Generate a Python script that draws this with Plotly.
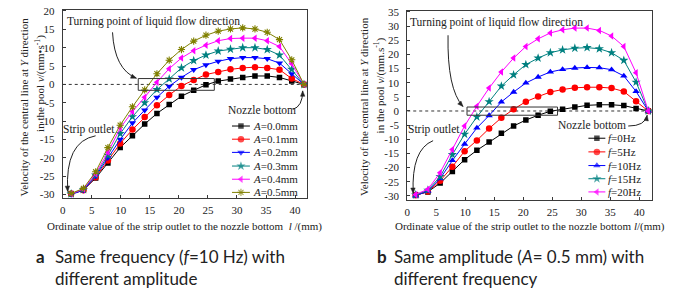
import math
import plotly.graph_objects as go

W, H = 685, 292

# ---------------- data ----------------
x_pos = [1.45, 3.56, 5.67, 7.78, 9.89, 12.0, 14.11, 16.22, 18.33, 20.44,
         22.55, 24.66, 26.77, 28.88, 30.99, 33.1, 35.21, 37.32, 39.43, 41.54]

amp_names = ["<i>A</i>=0.0mm", "<i>A</i>=0.1mm", "<i>A</i>=0.2mm",
             "<i>A</i>=0.3mm", "<i>A</i>=0.4mm", "<i>A</i>=0.5mm"]
v_A00 = [-29.8, -28.8, -25.5, -21.4, -17.2, -14.0, -10.8, -7.9, -5.5, -3.2,
         -1.6, -0.1, 0.9, 1.5, 1.9, 2.3, 2.3, 1.9, 0.9, 0.0]
v_A01 = [-29.8, -28.8, -25.3, -20.7, -16.1, -12.3, -8.9, -5.7, -2.9, -0.4,
         1.2, 2.7, 3.4, 4.1, 4.5, 4.7, 4.5, 4.0, 1.6, 0.0]
v_A02 = [-30.0, -28.8, -25.0, -20.0, -15.0, -10.5, -7.0, -3.5, -0.5, 1.9,
         4.0, 5.3, 6.3, 7.0, 7.3, 7.3, 7.0, 5.8, 2.9, 0.0]
v_A03 = [-29.8, -28.6, -24.7, -19.3, -13.4, -8.8, -5.0, -1.4, 1.5, 4.5,
         6.5, 8.0, 9.1, 9.6, 10.0, 10.0, 9.5, 8.0, 4.1, 0.0]
v_A04 = [-29.8, -28.5, -24.3, -18.5, -11.9, -7.4, -3.5, 0.6, 4.3, 7.2,
         9.2, 10.7, 11.9, 12.5, 12.6, 12.6, 11.9, 10.3, 5.6, 0.0]
v_A05 = [-29.7, -28.3, -23.8, -17.2, -11.1, -6.1, -1.5, 2.9, 6.6, 9.5,
         11.8, 13.4, 14.5, 15.1, 15.4, 15.1, 14.2, 12.2, 6.7, 0.0]
amp_series = [v_A00, v_A01, v_A02, v_A03, v_A04, v_A05]

freq_names = ["<i>f</i>=0Hz", "<i>f</i>=5Hz", "<i>f</i>=10Hz",
              "<i>f</i>=15Hz", "<i>f</i>=20Hz"]
v_f00 = [-29.7, -28.6, -25.5, -21.4, -17.2, -13.9, -11.0, -7.9, -5.3, -3.2,
         -1.5, -0.1, 0.6, 1.4, 2.0, 2.2, 2.2, 1.9, 0.9, 0.0]
v_f05 = [-29.8, -28.5, -24.7, -19.7, -14.2, -10.4, -6.2, -2.4, 0.6, 3.3,
         5.1, 6.7, 7.6, 8.2, 8.4, 8.4, 8.1, 6.9, 3.4, 0.0]
v_f10 = [-30.0, -28.3, -23.9, -17.5, -11.7, -6.0, -1.6, 3.2, 6.7, 9.9,
         12.0, 13.8, 14.7, 15.2, 15.4, 15.3, 14.6, 12.4, 6.9, 0.0]
v_f15 = [-29.7, -28.0, -23.2, -15.4, -8.2, -2.1, 3.3, 8.8, 12.8, 16.4,
         18.7, 20.6, 21.6, 22.2, 22.4, 22.0, 20.6, 17.9, 10.2, 0.0]
v_f20 = [-29.5, -27.7, -21.8, -13.6, -5.3, 1.7, 8.1, 13.8, 18.7, 22.8,
         25.5, 27.6, 28.7, 29.3, 29.3, 28.5, 26.5, 22.8, 13.5, 0.0]
freq_series = [v_f00, v_f05, v_f10, v_f15, v_f20]

x_ticks = [0, 5, 10, 15, 20, 25, 30, 35, 40]
x_ticklabels = ["0", "5", "10", "15", "20", "25", "30", "35", "40"]
yL_ticks = [-30, -25, -20, -15, -10, -5, 0, 5, 10, 15, 20]
yL_ticklabels = ["-30", "-25", "-20", "-15", "-10", "-5", "0", "5", "10", "15", "20"]
yR_ticks = [-30, -25, -20, -15, -10, -5, 0, 5, 10, 15, 20, 25, 30, 35]
yR_ticklabels = ["-30", "-25", "-20", "-15", "-10", "-5", "0", "5", "10",
                 "15", "20", "25", "30", "35"]

# ---------------- styles ----------------
SERIF = "Liberation Serif, Times New Roman, serif"
SANS = "Lato, Open Sans, sans-serif"
TXT = "#222222"
AX = "#3a3a3a"

amp_colors = ["#000000", "#FF0000", "#0000FF", "#008080", "#FF00FF", "#808000"]
amp_symbols = ["square", "circle", "triangle-down", "star", "triangle-left", "asterisk-open"]
amp_sizes = [5.5, 6.5, 6.5, 7, 6.5, 6]
freq_colors = ["#000000", "#FF0000", "#0000FF", "#008080", "#FF00FF"]
freq_symbols = ["square", "circle", "triangle-up", "star", "triangle-left"]
freq_sizes = [5.5, 6.5, 6.5, 7, 6.5]


def X(px):
    return px / W


def Y(py):
    return 1 - py / H


def marker(sym, col, size):
    m = dict(symbol=sym, color=col, size=size, line=dict(width=0, color=col))
    if sym.endswith("-open"):
        m["line"] = dict(width=1.1, color=col)
    return m


fig = go.Figure()

for name, vals, col, sym, sz in zip(amp_names, amp_series, amp_colors, amp_symbols, amp_sizes):
    fig.add_trace(go.Scatter(x=x_pos, y=vals, mode="lines+markers", name=name,
                             line=dict(color=col, width=1), marker=marker(sym, col, sz),
                             xaxis="x", yaxis="y", showlegend=False))

for name, vals, col, sym, sz in zip(freq_names, freq_series, freq_colors, freq_symbols, freq_sizes):
    fig.add_trace(go.Scatter(x=x_pos, y=vals, mode="lines+markers", name=name,
                             line=dict(color=col, width=1), marker=marker(sym, col, sz),
                             xaxis="x2", yaxis="y2", showlegend=False))

# ------------- hand-drawn legends (overlay pixel axes) -------------
annotations = []


def legend_block(names, colors, symbols, sizes, x0, x1, xt, rows):
    for name, col, sym, sz, ry in zip(names, colors, symbols, sizes, rows):
        fig.add_trace(go.Scatter(x=[x0, (x0 + x1) / 2, x1], y=[ry, ry, ry],
                                 mode="lines+markers", line=dict(color=col, width=1),
                                 marker=dict(marker(sym, col, sz), size=[0, sz, 0]),
                                 xaxis="x3", yaxis="y3", showlegend=False,
                                 hoverinfo="skip"))
        annotations.append(dict(x=X(xt), y=Y(ry), xref="paper", yref="paper",
                                text=name, showarrow=False, xanchor="left",
                                yanchor="middle", font=dict(family=SERIF, size=11, color=TXT)))


legend_block(amp_names, amp_colors, amp_symbols, amp_sizes, 230, 248, 249,
             [124, 137.5, 151, 165, 178.5, 192])
legend_block(freq_names, freq_colors, freq_symbols, freq_sizes, 588, 605, 606,
             [136.5, 150.5, 164.5, 178, 191.5])

# ------------- text annotations -------------


def txt(px, py, text, size=11, family=SERIF, xanchor="center", angle=0):
    annotations.append(dict(x=X(px), y=Y(py), xref="paper", yref="paper", text=text,
                            showarrow=False, xanchor=xanchor, yanchor="middle",
                            textangle=angle, font=dict(family=family, size=size, color=TXT)))


txt(151, 17, "Turning point of liquid flow direction", 11.5)
txt(86, 128, "Strip outlet", 11.5)
txt(260, 108, "Nozzle bottom", 11.5)
txt(496, 18, "Turning point of liquid flow direction", 11.5)
txt(433, 128, "Strip outlet", 11.5)
txt(592, 123, "Nozzle bottom", 11.5)

txt(21, 104, "Velocity of the central line at <i>Y</i> direction", 11, angle=-90)
txt(37, 80, "in the pool <i>v</i>/(mm\u2022s<sup>-1</sup>)", 11, angle=-90)
txt(362, 104, "Velocity of the central line at <i>Y</i> direction", 11, angle=-90)
txt(378, 82, "in the pool <i>v</i>/(mm.s<sup>-1</sup>)", 11, angle=-90)

txt(182, 227, "Ordinate value of the strip outlet to the nozzle bottom  <i>l</i> /(mm)", 11)
txt(529, 227, "Ordinate value of the strip outlet to the nozzle bottom <i>l</i>/(mm)", 11)

txt(31, 258, "<b>a</b>", 17, SANS, "left")
txt(50, 258, "Same frequency (<i>f</i>=10 Hz) with", 17, SANS, "left")
txt(50, 280, "different amplitude", 17, SANS, "left")
txt(374, 258, "<b>b</b>", 17, SANS, "left")
txt(391, 258, "Same amplitude (<i>A</i>= 0.5 mm) with", 17, SANS, "left")
txt(391, 280, "different frequency", 17, SANS, "left")

# ------------- shapes -------------
shapes = []


def curved_arrow(p0, c, p1, col="#222222"):
    shapes.append(dict(type="path", xref="paper", yref="paper",
                       path=f"M {X(p0[0])},{Y(p0[1])} Q {X(c[0])},{Y(c[1])} {X(p1[0])},{Y(p1[1])}",
                       line=dict(color=col, width=1)))
    dx, dy = p1[0] - c[0], p1[1] - c[1]
    L = math.hypot(dx, dy)
    ux, uy = dx / L, dy / L
    size, half = 5.5, 2.2
    bx, by = p1[0] - ux * size, p1[1] - uy * size
    lx, ly = bx - uy * half, by + ux * half
    rx, ry = bx + uy * half, by - ux * half
    shapes.append(dict(type="path", xref="paper", yref="paper",
                       path=f"M {X(p1[0])},{Y(p1[1])} L {X(lx)},{Y(ly)} L {X(rx)},{Y(ry)} Z",
                       fillcolor=col, line=dict(color=col, width=0.5)))


curved_arrow((110, 28), (112, 66), (134, 75))
curved_arrow((93, 134), (62, 140), (65, 191))
curved_arrow((291, 107), (301, 104), (301, 88))
curved_arrow((447, 31), (446, 86), (462, 104))
curved_arrow((432, 139), (410, 148), (412, 193))
curved_arrow((628, 124), (645, 124), (647, 113))

for xr, yr, xmax, box in (("x", "y", 41.5, (13.0, 26.1, -1.6, 1.6)),
                          ("x2", "y2", 41.7, (10.3, 25.9, -1.5, 1.4))):
    shapes.append(dict(type="line", xref=xr, yref=yr, x0=0, x1=xmax, y0=0, y1=0,
                       line=dict(color="#333333", width=1, dash="dot"), layer="below"))
    shapes.append(dict(type="rect", xref=xr, yref=yr, x0=box[0], x1=box[1], y0=box[2], y1=box[3],
                       line=dict(color="#333333", width=1), fillcolor="rgba(0,0,0,0)"))

axis_common = dict(showgrid=False, zeroline=False, showline=True, mirror=True,
                   linecolor=AX, linewidth=1, ticks="inside", ticklen=3, tickcolor=AX,
                   tickfont=dict(family=SERIF, size=11, color=TXT))

fig.update_layout(
    width=W, height=H, margin=dict(l=0, r=0, t=0, b=0),
    paper_bgcolor="white", plot_bgcolor="rgba(0,0,0,0)", showlegend=False,
    xaxis=dict(axis_common, domain=[X(60), X(305)], range=[0, 42], anchor="y",
               tickvals=x_ticks, ticktext=x_ticklabels, ticklabelstandoff=2),
    yaxis=dict(axis_common, domain=[Y(198), Y(5)], range=[-31.0, 20.3], anchor="x",
               tickvals=yL_ticks, ticktext=yL_ticklabels, ticklabelstandoff=5),
    xaxis2=dict(axis_common, domain=[X(406), X(652)], range=[0, 42.2], anchor="y2",
                tickvals=x_ticks, ticktext=x_ticklabels, ticklabelstandoff=2),
    yaxis2=dict(axis_common, domain=[Y(199.3), Y(6)], range=[-31.3, 35.4], anchor="x2",
                tickvals=yR_ticks, ticktext=yR_ticklabels, ticklabelstandoff=5),
    xaxis3=dict(domain=[0, 1], range=[0, W], visible=False, anchor="y3", fixedrange=True),
    yaxis3=dict(domain=[0, 1], range=[H, 0], visible=False, anchor="x3", fixedrange=True),
    annotations=annotations, shapes=shapes,
)

fig.write_html("out.html", config={"displayModeBar": False},
               post_script="document.body.style.margin='0';document.body.style.padding='0';")
